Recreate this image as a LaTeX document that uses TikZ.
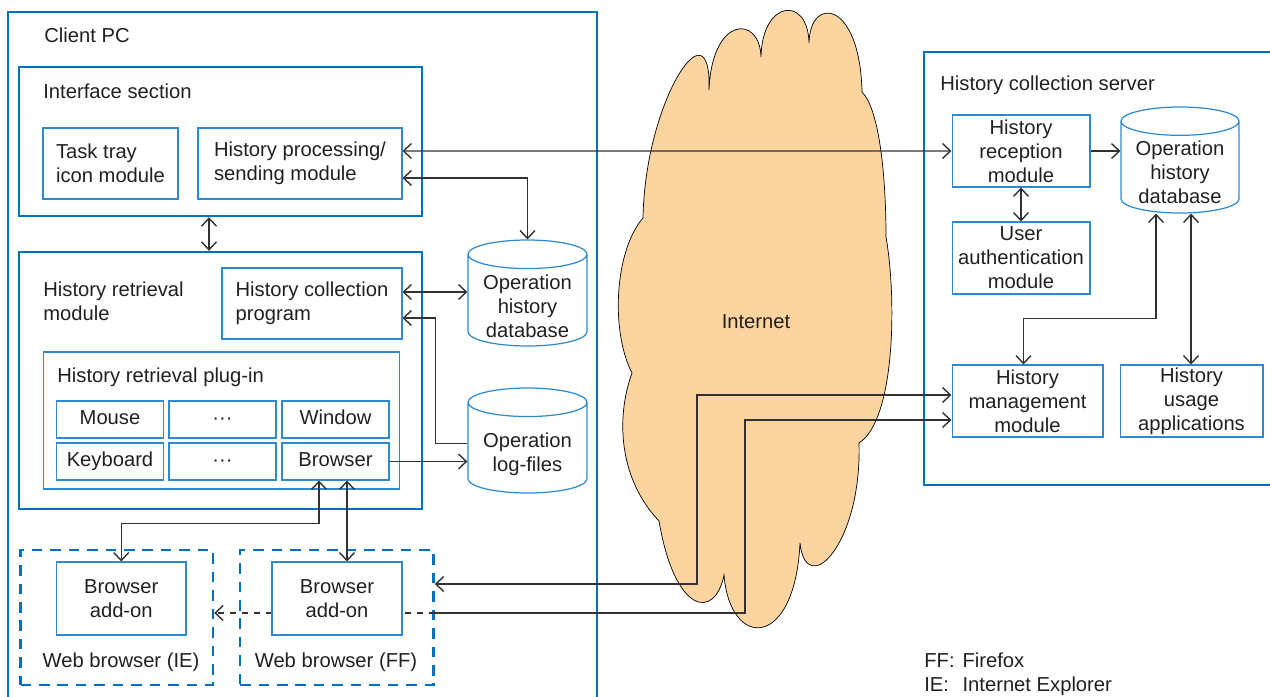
\documentclass[tikz,border=0pt]{standalone}
\usepackage{fontspec}
\setmainfont{Liberation Sans}
\usetikzlibrary{shapes.geometric,arrows.meta}
\definecolor{boxblue}{RGB}{0,112,192}
\definecolor{lineblue}{RGB}{45,138,208}
\definecolor{cloudfill}{RGB}{251,212,160}
\definecolor{arrowgray}{RGB}{50,50,50}
\definecolor{textgray}{RGB}{35,31,32}

\begin{document}
\begin{tikzpicture}
  [x=0.02cm,y=-0.02cm,
   every node/.style={font=\fontsize{11.5}{13.6}\selectfont,text=textgray,inner sep=0pt},
   >={Straight Barb[length=4.5pt,width=8.5pt]},
   wh/.style 2 args={minimum width=#1,minimum height=#2},
   outer/.style={draw=boxblue,line width=1.4pt},
   module/.style={draw=lineblue,line width=0.6pt,align=center},
   dbase/.style={cylinder,shape border rotate=90,aspect=0.24,draw=lineblue,
     line width=0.7pt,anchor=shape center,text width=2.38cm,minimum height=2.12cm},
   browserbox/.style={draw=boxblue,line width=1.4pt,dash pattern=on 6pt off 4.5pt},
   link/.style={draw=arrowgray,line width=0.8pt}]

  \useasboundingbox (0,0) rectangle (1270,696);
  \clip (0,0) rectangle (1270,696);

  % containers
  \node[outer,wh={11.78cm}{14.16cm}] (client) at (302.5,366) {};
  \node[outer,wh={7.52cm}{8.66cm}] (server) at (1112,268.5) {};
  \node[outer,wh={8.06cm}{2.98cm}] (iface) at (220.5,141.5) {};
  \node[outer,wh={8.06cm}{5.14cm}] (hrm) at (220.5,380.5) {};
  \node[browserbox,wh={3.85cm}{2.70cm}] (ieweb) at (116.75,617.5) {};
  \node[browserbox,wh={3.87cm}{2.70cm}] (ffweb) at (336.8,617.5) {};

  \node[anchor=west] (clientlbl) at (44,35) {Client PC};
  \node[anchor=west] (ifacelbl) at (43,91) {Interface section};
  \node[anchor=west,align=left] (hrmlbl) at (43,301) {History retrieval\\module};
  \node[anchor=west] (serverlbl) at (940,85) {History collection server};
  \node (ieweblbl) at (121,662) {Web browser (IE)};
  \node (ffweblbl) at (336,662) {Web browser (FF)};

  % internet
  \path[draw=black,line width=0.4pt,fill=cloudfill]
    (643,218) .. controls (645,100) and (712,0) .. (709,90)
    .. controls (712,15) and (760,15) .. (761,57)
    .. controls (762,0) and (808,-5) .. (809,43)
    .. controls (810,-5) and (860,0) .. (862,92)
    .. controls (880,110) and (886,180) .. (886,237)
    .. controls (897,300) and (895,420) .. (859,443)
    .. controls (862,545) and (806,600) .. (800,543)
    .. controls (795,650) and (730,650) .. (724,575)
    .. controls (715,620) and (675,615) .. (659,521)
    .. controls (620,480) and (615,420) .. (632,373)
    .. controls (610,330) and (615,250) .. (643,218) -- cycle;
  \node (inet) at (756,322) {Internet};

  % client side
  \node[module,align=left,wh={2.70cm}{1.42cm}] (tray) at (110.5,163.5) {Task tray\\icon module};
  \node[module,align=left,wh={4.08cm}{1.42cm}] (hps) at (300,163.5) {History processing/\\sending module};
  \node[module,align=left,wh={3.60cm}{1.42cm}] (hcp) at (312,303.5) {History collection\\program};
  \node[module,wh={7.14cm}{2.74cm}] (plugin) at (221.5,420.5) {};
  \node[anchor=west] (pluginlbl) at (57,377) {History retrieval plug-in};

  \foreach \name/\txt/\cx/\cy in {mouse/Mouse/110/419.5,dotsA/···/222.5/419.5,window/Window/335.5/419.5,
      keyboard/Keyboard/110/461.5,dotsB/···/222.5/461.5,browser/Browser/335.5/461.5}
    \node[module,wh={2.14cm}{0.74cm},text height=8.3pt,text depth=2.1pt] (\name) at (\cx,\cy) {\txt};

  \node[dbase] (db1) at (527.5,293) {};
  \node[align=center] (db1txt) at (527.5,306) {Operation\\history\\database};
  \node[dbase,minimum height=2.10cm] (db2) at (527.5,440.5) {};
  \node[align=center] (db2txt) at (527.5,454) {Operation\\log-files};

  \node[module,wh={2.59cm}{1.46cm}] (ieadd) at (121.25,598.5) {Browser\\add-on};
  \node[module,wh={2.60cm}{1.46cm}] (ffadd) at (337,598.5) {Browser\\add-on};

  % server side
  \node[module,wh={2.76cm}{1.44cm}] (hrec) at (1021,151) {History\\reception\\module};
  \node[dbase,text width=2.36cm] (db3) at (1180,160) {};
  \node[align=center] (db3txt) at (1180,172) {Operation\\history\\database};
  \node[module,wh={2.76cm}{1.44cm}] (ua) at (1021,258) {User\\authentication\\module};
  \node[module,wh={3.02cm}{1.44cm}] (hm) at (1027.5,401) {History\\management\\module};
  \node[module,wh={2.86cm}{1.44cm}] (hu) at (1191.5,401) {History\\usage\\applications};

  \node[anchor=west] (legend) at (924,675)
    {\begin{tabular}{@{}l@{\hspace{4.5pt}}l@{}}FF: & Firefox\\IE: & Internet Explorer\end{tabular}};

  \coordinate (bendA) at (697,584);
  \coordinate (bendB) at (745,613);

  % connections
  \draw[link,<->] ([yshift=0.25cm]hps.east) -- (hrec.west);
  \draw[link,<->] ([yshift=-0.29cm]hps.east) -| (db1.north);
  \draw[link,<->] ([xshift=-0.23cm]iface.south) -- ([xshift=-0.23cm]hrm.north);
  \draw[link,<->] ([yshift=0.23cm]hcp.east) -- ([yshift=0.23cm]hcp.east -| db1.west);
  \draw[link,<-] ([yshift=-0.29cm]hcp.east) -- ++(33,0) |- ([yshift=0.09cm]db2.west);
  \draw[link,->] (browser.east) -- (browser.east -| db2.west);
  \draw[link,<->] ([xshift=-0.33cm]browser.south) -- ++(0,43) -| (ieadd.north);
  \draw[link,<->] ([xshift=0.23cm]browser.south) -- ([xshift=0.23cm]browser.south |- ffadd.north);
  \draw[link,<->] (ffweb.east |- bendA) -- (bendA) |- ([yshift=0.12cm]hm.west);
  \draw[link,->] (ffweb.east |- bendB) -- (bendB) |- ([yshift=-0.38cm]hm.west);
  \draw[link,dash pattern=on 3.4pt off 3.4pt,dash phase=-1.5pt] (ffadd.east |- bendB) -- (ffweb.east |- bendB);
  \draw[link,->,dash pattern=on 3.4pt off 3.4pt] (ffadd.west |- bendB) -- (ieweb.east |- bendB);

  \draw[link,->] (hrec.east) -- (hrec.east -| db3.west);
  \foreach \from/\to in {hrec.south/ua.north}
    \draw[link,<->] (\from) -- (\to);
  \draw[link,<->] ([xshift=-0.48cm]db3.south) -- ++(0,105) -| ([xshift=-0.08cm]hm.north);
  \draw[link,<->] ([xshift=0.22cm]db3.south) -- ([xshift=0.22cm]db3.south |- hu.north);

\end{tikzpicture}
\end{document}
